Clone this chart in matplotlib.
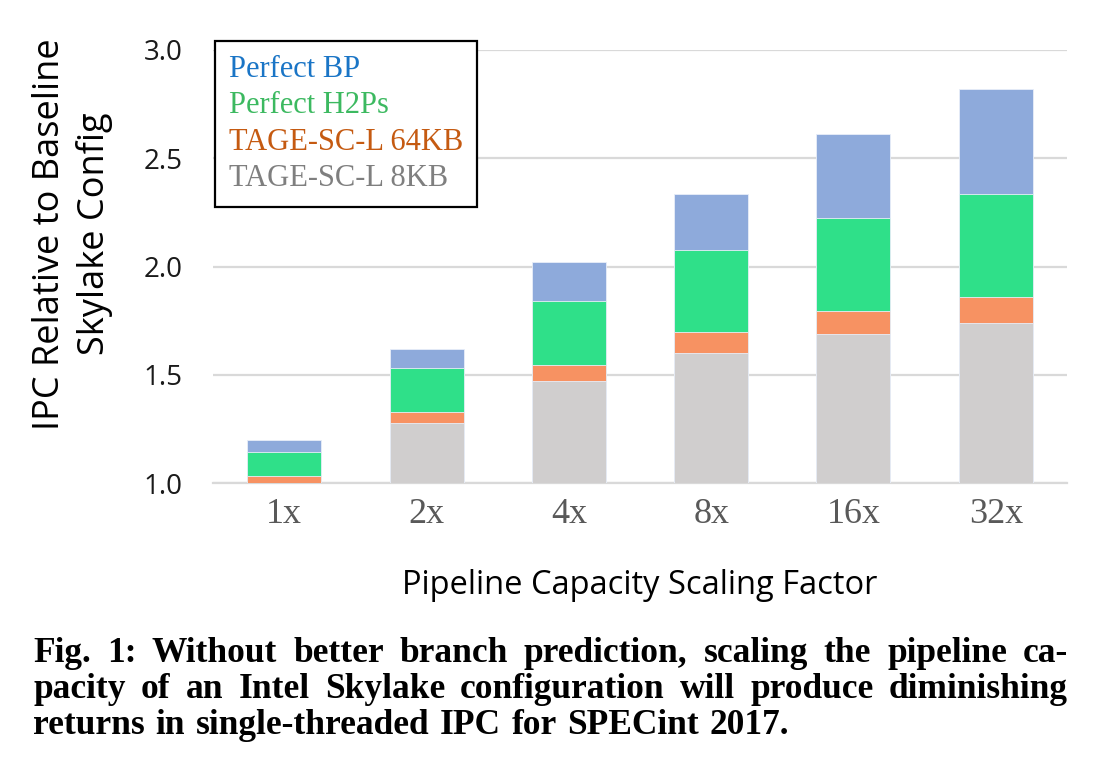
import matplotlib
matplotlib.use("Agg")
import matplotlib.pyplot as plt
import numpy as np

# data (IPC relative to baseline, cumulative)
factors = ['1x', '2x', '4x', '8x', '16x', '32x']
tage_8kb = [1.00, 1.28, 1.47, 1.60, 1.69, 1.74]
tage_64kb = [1.035, 1.33, 1.545, 1.70, 1.795, 1.86]
perfect_h2p = [1.143, 1.53, 1.84, 2.075, 2.225, 2.335]
perfect_bp = [1.20, 1.62, 2.02, 2.335, 2.61, 2.82]

series = [
    ('Perfect BP', perfect_bp, '#8eaadb', '#1a75c6'),
    ('Perfect H2Ps', perfect_h2p, '#2fe089', '#3cb960'),
    ('TAGE-SC-L 64KB', tage_64kb, '#f79262', '#c55a11'),
    ('TAGE-SC-L 8KB', tage_8kb, '#d0cece', '#7f7f7f'),
]

fig = plt.figure(figsize=(11.16, 7.67), dpi=100)
ax = fig.add_axes([0.191, 0.370, 0.765, 0.565])

x = np.arange(len(factors))
handles = []
for name, vals, col, tcol in series:
    b = ax.bar(x, vals, width=0.52, color=col, edgecolor='#e8eef8', linewidth=0.6,
               zorder=3, label=name)
    handles.append(b)

ax.set_ylim(1.0, 3.0)
ax.set_xlim(-0.5, len(factors) - 0.5)
ax.set_yticks([1.0, 1.5, 2.0, 2.5, 3.0])
ax.set_yticklabels(['1.0', '1.5', '2.0', '2.5', '3.0'], family='Open Sans',
                   fontsize=20, color='#1a1a1a')
ax.set_xticks(x)
ax.set_xticklabels(factors, family='Liberation Serif', fontsize=26, color='#595959')
ax.tick_params(axis='both', length=0)
ax.tick_params(axis='y', pad=22)
ax.tick_params(axis='x', pad=11)

ax.grid(axis='y', color='#d9d9d9', linewidth=1.6, zorder=0)
for s in ['top', 'right', 'left']:
    ax.spines[s].set_visible(False)
ax.spines['bottom'].set_color('#d9d9d9')
ax.spines['bottom'].set_linewidth(1.6)

ax.set_ylabel('IPC Relative to Baseline\nSkylake Config', family='Open Sans',
              fontsize=26, linespacing=1.3)
ax.yaxis.set_label_coords(-0.117, 0.575)
ax.set_xlabel('Pipeline Capacity Scaling Factor', family='Open Sans',
              fontsize=23.5, labelpad=27)

leg = ax.legend(handles=handles, loc='upper left', bbox_to_anchor=(0.002, 1.02),
                borderaxespad=0, handlelength=0, handletextpad=0, fancybox=False,
                framealpha=1, edgecolor='black', prop={'family': 'Liberation Serif', 'size': 22},
                labelspacing=0.24, borderpad=0.45)
leg.get_frame().set_linewidth(1.6)
for h in leg.legend_handles:
    h.set_visible(False)
for txt, (_, _, _, tcol) in zip(leg.get_texts(), series):
    txt.set_color(tcol)

# caption, justified like the paper (last line left aligned)
caption = ["Fig. 1: Without better branch prediction, scaling the pipeline ca-",
           "pacity of an Intel Skylake configuration will produce diminishing",
           "returns in single-threaded IPC for SPECint 2017."]
cap_size = 25.5
cap_left, cap_right = 33, 1068
baselines = [662, 698, 734]
renderer = fig.canvas.get_renderer()
W, H = fig.bbox.width, fig.bbox.height
for i, line in enumerate(caption):
    words = line.split(' ')
    y = 1 - baselines[i] / H
    texts = [fig.text(0, y, w, family='Liberation Serif', weight='bold',
                      fontsize=cap_size, va='baseline', ha='left') for w in words]
    widths = [t.get_window_extent(renderer).width for t in texts]
    if i < len(caption) - 1:
        gap = (cap_right - cap_left - sum(widths)) / (len(words) - 1)
    else:
        gap = 0.25 * cap_size * 100 / 72 * 1.2
    pos = cap_left
    for t, w in zip(texts, widths):
        t.set_x(pos / W)
        pos += w + gap

fig.savefig('out.png', dpi=100)
